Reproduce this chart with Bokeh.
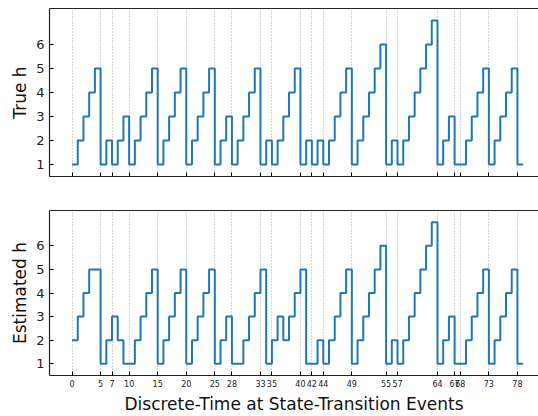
from bokeh.plotting import figure
from bokeh.layouts import column
from bokeh.models import FixedTicker, Range1d, LinearAxis
from bokeh.embed import file_html
from bokeh.resources import INLINE

# ---- data ----
t = list(range(80))
true_h = [1, 2, 3, 4, 5, 1, 2, 1, 2, 3,
          1, 2, 3, 4, 5, 1, 2, 3, 4, 5,
          1, 2, 3, 4, 5, 1, 2, 3, 1, 2,
          3, 4, 5, 1, 2, 1, 2, 3, 4, 5,
          1, 2, 1, 2, 1, 2, 3, 4, 5, 1,
          2, 3, 4, 5, 6, 1, 2, 1, 2, 3,
          4, 5, 6, 7, 1, 2, 3, 1, 1, 2,
          3, 4, 5, 1, 2, 3, 4, 5, 1, 1]
est_h = [2, 3, 4, 5, 5, 1, 2, 3, 2, 1,
         1, 2, 3, 4, 5, 1, 2, 3, 4, 5,
         1, 2, 3, 4, 5, 1, 2, 3, 1, 1,
         2, 3, 4, 5, 1, 2, 3, 2, 3, 4,
         5, 1, 1, 2, 1, 2, 3, 4, 5, 1,
         2, 3, 4, 5, 6, 1, 2, 1, 2, 3,
         4, 5, 6, 7, 1, 2, 3, 1, 1, 2,
         3, 4, 5, 1, 2, 3, 4, 5, 1, 1]
events = [0, 5, 7, 10, 15, 20, 25, 28, 33, 35, 40, 42, 44, 49, 55, 57, 64, 67, 68, 73, 78]
y_ticks = [1, 2, 3, 4, 5, 6]

FONT = "DejaVu Sans"
LINE = "#1f77b4"
SPINE = "#222222"


def make_panel(ylabel, yvals, height, top, bottom, show_xlabels):
    p = figure(width=538, height=height,
               x_range=Range1d(-3.95, 81.69), y_range=Range1d(0.5, 7.5),
               output_backend="svg", toolbar_location=None,
               min_border_left=49, min_border_right=0,
               min_border_top=top, min_border_bottom=bottom)
    p.step(t, yvals, mode="after", line_color=LINE, line_width=2)

    p.outline_line_color = None

    p.xgrid.ticker = FixedTicker(ticks=events)
    p.xgrid.grid_line_color = "#aaaaaa"
    p.xgrid.grid_line_dash = "1 2"
    p.xgrid.grid_line_width = 1
    p.ygrid.visible = False

    xa = p.below[0]
    xa.ticker = FixedTicker(ticks=events)
    xa.axis_line_color = SPINE
    xa.axis_line_width = 1.2
    xa.major_tick_in = 4
    xa.major_tick_out = 0
    xa.minor_tick_line_color = None
    xa.major_tick_line_color = "black"
    xa.major_label_standoff = 4
    xa.major_label_text_font = FONT
    xa.major_label_text_font_size = "8px"
    xa.major_label_text_color = "#222222"
    if not show_xlabels:
        xa.major_label_overrides = {e: "" for e in events}

    ya = p.left[0]
    ya.ticker = FixedTicker(ticks=y_ticks)
    ya.axis_line_color = SPINE
    ya.axis_line_width = 1.2
    ya.major_tick_in = 4
    ya.major_tick_out = 0
    ya.minor_tick_line_color = None
    ya.major_tick_line_color = "black"
    ya.major_label_standoff = 5
    ya.major_label_text_font = FONT
    ya.major_label_text_font_size = "13px"
    ya.major_label_text_color = "#222222"
    ya.axis_label = ylabel
    ya.axis_label_text_font = FONT
    ya.axis_label_text_font_size = "17px"
    ya.axis_label_text_font_style = "normal"
    ya.axis_label_text_color = "#111111"
    ya.axis_label_standoff = 3

    top_ax = LinearAxis(ticker=FixedTicker(ticks=[]),
                        major_label_standoff=0,
                        major_tick_in=0, major_tick_out=0,
                        minor_tick_in=0, minor_tick_out=0,
                        axis_line_color=SPINE, axis_line_width=1.2)
    p.add_layout(top_ax, "above")
    return p


p1 = make_panel("True h", true_h, 200, 8, 24, False)
p2 = make_panel("Estimated h", est_h, 216, 10, 38, True)

xa2 = p2.below[0]
xa2.axis_label = "Discrete-Time at State-Transition Events"
xa2.axis_label_text_font = FONT
xa2.axis_label_text_font_size = "17px"
xa2.axis_label_text_font_style = "normal"
xa2.axis_label_text_color = "#111111"
xa2.axis_label_standoff = 4

layout = column(p1, p2, spacing=0)
open("out.html", "w").write(file_html(layout, INLINE))
